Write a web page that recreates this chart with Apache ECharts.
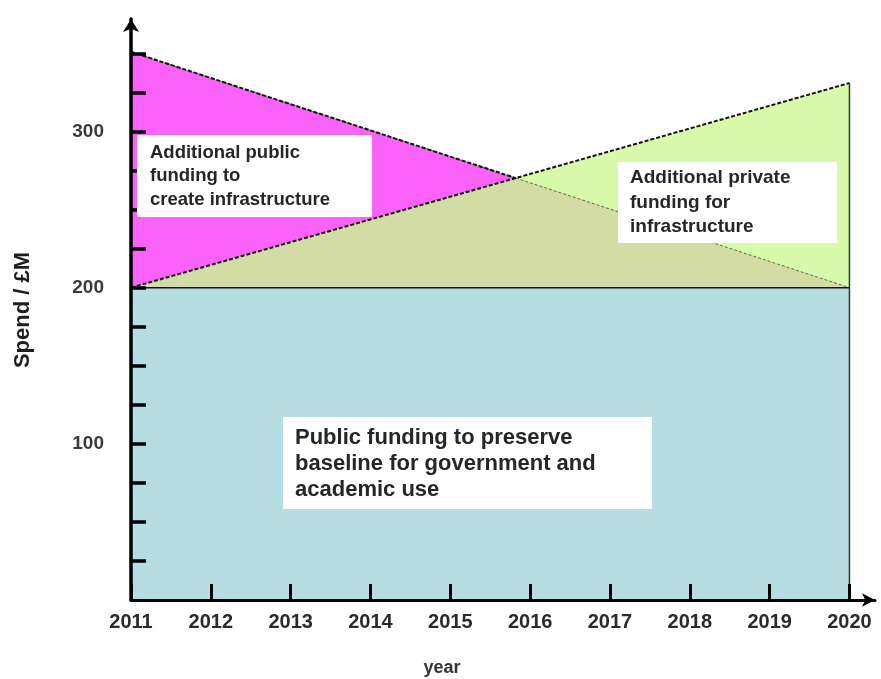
<!DOCTYPE html>
<html>
<head>
<meta charset="utf-8">
<script src="https://cdn.jsdelivr.net/npm/echarts@6/dist/echarts.min.js"></script>
<style>
  html, body { margin: 0; padding: 0; background: #ffffff; }
  #chart { width: 881px; height: 679px; }
</style>
</head>
<body>
<div id="chart"></div>
<script>
// Spend (£M) at the start and end of the period
const years = [2011, 2020];
const baselineSpend = [200, 200];
const publicExtraTop = [351, 200];
const privateExtraTop = [200, 331];

// Axis ticks and labels
const yearTicks = [2011, 2012, 2013, 2014, 2015, 2016, 2017, 2018, 2019, 2020];
const spendTicks = [25, 50, 75, 100, 125, 150, 175, 200, 225, 250, 275, 300, 325, 350];
const spendLabels = [100, 200, 300];

const pairs = (ys) => years.map((x, i) => [x, ys[i]]);

// Point where the falling public line meets the rising private line
function crossing(a, b) {
  const da = a[1] - a[0], db = b[1] - b[0];
  const t = (b[0] - a[0]) / (da - db);
  return [years[0] + t * (years[1] - years[0]), a[0] + t * da];
}
const cross = crossing(publicExtraTop, privateExtraTop);
const overlapTop = [[years[0], privateExtraTop[0]], cross, [years[1], publicExtraTop[1]]];

const PINK = '#fa62fa', GREEN = '#d7fbab', OLIVE = '#d3dca3', BLUE = '#b6dde2';
const LABEL_FONT = 'Liberation Sans, Arial, sans-serif';

function area(name, data, color, z) {
  return {
    type: 'line', name, data, symbol: 'none', silent: true, z,
    lineStyle: { width: 0, opacity: 0 },
    areaStyle: { color, opacity: 1 }
  };
}
function edge(name, data, color, width, type) {
  return {
    type: 'line', name, data, symbol: 'none', silent: true, z: 4,
    lineStyle: { color, width, type }
  };
}

function box(x, y, w, h, text, tx, ty, size, lh) {
  return [
    { type: 'rect', z: 100, shape: { x, y, width: w, height: h }, style: { fill: '#ffffff' } },
    { type: 'text', z: 101, x: tx, y: ty,
      style: { text, fill: '#262626', font: 'bold ' + size + 'px ' + LABEL_FONT,
               lineHeight: lh, align: 'left', verticalAlign: 'top' } }
  ];
}

const chart = echarts.init(document.getElementById('chart'), null, { renderer: 'canvas' });
chart.setOption({
  animation: false,
  backgroundColor: '#ffffff',
  grid: { left: 131, right: 6, top: 19, bottom: 79 },
  xAxis: {
    type: 'value', min: 2011, max: 2020.32, z: 10,
    splitLine: { show: false },
    axisLine: { show: true, lineStyle: { color: '#000', width: 3 },
                symbol: ['none', 'arrow'], symbolSize: [10, 13] },
    axisTick: { show: true, inside: true, length: 16, customValues: yearTicks,
                lineStyle: { color: '#000', width: 3 } },
    axisLabel: { customValues: yearTicks, margin: 12, formatter: (v) => String(v),
                 color: '#2b2b2b', fontFamily: LABEL_FONT, fontWeight: 'bold', fontSize: 20 }
  },
  yAxis: {
    type: 'value', min: 0, max: 372, z: 10,
    splitLine: { show: false },
    axisLine: { show: true, lineStyle: { color: '#000', width: 3.5 },
                symbol: ['none', 'arrow'], symbolSize: [12, 13] },
    axisTick: { show: true, inside: true, length: 15, customValues: spendTicks,
                lineStyle: { color: '#000', width: 3.5 } },
    axisLabel: { customValues: spendLabels, margin: 27, formatter: (v) => String(v),
                 color: '#3a3a3a', fontFamily: LABEL_FONT, fontWeight: 'bold', fontSize: 19 }
  },
  series: [
    area('Additional public funding', pairs(publicExtraTop), PINK, 1),
    area('Additional private funding', pairs(privateExtraTop), GREEN, 1),
    area('Shared', overlapTop, OLIVE, 1),
    area('Baseline public funding', pairs(baselineSpend), BLUE, 2),
    edge('Public line', pairs(publicExtraTop), '#5f6650', 1, [3, 2]),
    edge('Private line', pairs(privateExtraTop), '#111111', 2, [4, 2]),
    edge('Public upper line', [[years[0], publicExtraTop[0]], cross], '#111111', 2, [4, 2]),
    edge('Baseline', pairs(baselineSpend), '#111111', 1.5, 'solid'),
    edge('Right edge', [[years[1], 0], [years[1], privateExtraTop[1]]], '#333333', 1.5, 'solid')
  ],
  graphic: [
    ...box(137, 135, 235, 82, 'Additional public\nfunding to\ncreate infrastructure', 150, 141, 18.5, 23.5),
    ...box(618, 162, 219, 81, 'Additional private\nfunding for\ninfrastructure', 630, 166, 19, 24.5),
    ...box(283, 417, 369, 92, 'Public funding to preserve\nbaseline for government and\nacademic use', 295, 425, 22, 26),
    { type: 'text', z: 101, x: 23, y: 310, rotation: Math.PI / 2,
      style: { text: 'Spend / £M', fill: '#1e1e1e', font: 'bold 22px ' + LABEL_FONT,
               align: 'center', verticalAlign: 'middle' } },
    { type: 'text', z: 101, x: 442, y: 668,
      style: { text: 'year', fill: '#333333', font: 'bold 18px ' + LABEL_FONT,
               align: 'center', verticalAlign: 'middle' } }
  ]
});
</script>
</body>
</html>
